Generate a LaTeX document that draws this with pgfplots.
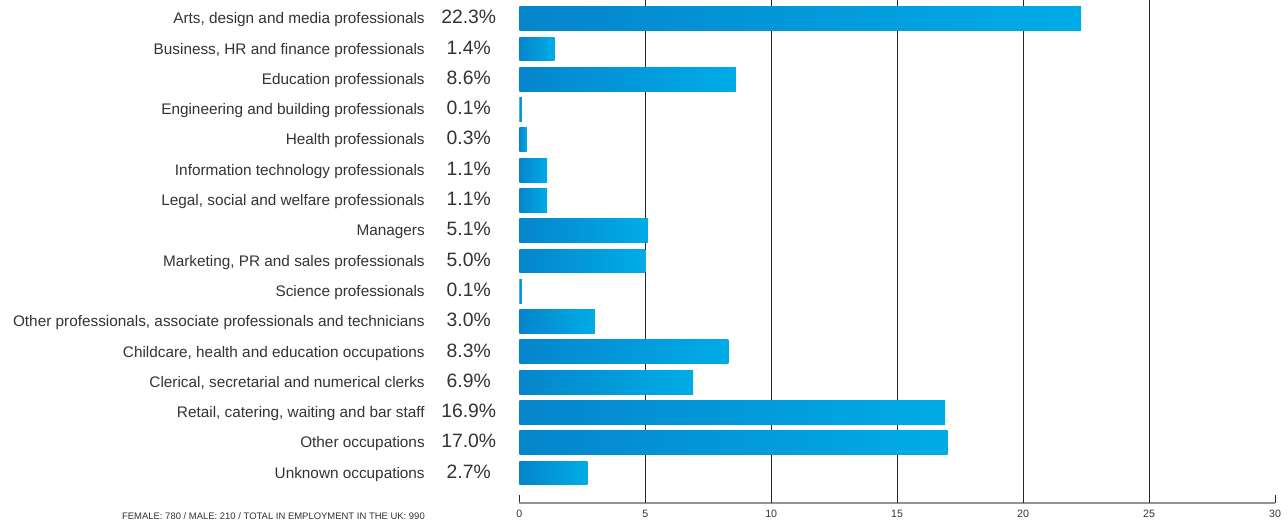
\documentclass[border=0pt]{standalone}
\usepackage{pgfplots}
\pgfplotsset{compat=1.18}
\usepackage{fontspec}
\setmainfont{Liberation Sans}
\definecolor{barL}{HTML}{0585CB}
\definecolor{barR}{HTML}{00ACE6}
\definecolor{txt}{HTML}{333333}
\newcommand{\vl}[1]{\hspace{6.75pt}\makebox[52.5pt][c]{\fontsize{14.5}{16}\selectfont #1}}
\begin{document}
\begin{tikzpicture}
\begin{axis}[
  at={(0,0)}, anchor=south west,
  scale only axis,
  width=566.8pt, height=377.25pt,
  xmin=0, xmax=30,
  ymin=-0.617, ymax=15.99,
  y dir=reverse,
  axis x line*=bottom,
  axis y line*=left,
  y axis line style={draw=none},
  x axis line style={draw=gray!85, line width=1.5pt},
  xtick={0,5,...,30},
  tick align=inside,
  major tick length=6pt,
  xtick style={draw=black!85, line width=0.75pt},
  ytick style={draw=none},
  extra x ticks={5,10,15,20,25},
  extra x tick labels={},
  extra x tick style={grid=major, major grid style={draw=black!85, line width=0.75pt}},
  /pgf/number format/assume math mode=true,
  xticklabel style={font=\fontsize{8}{9}\selectfont, text=txt, yshift=-2pt},
  ytick={0,...,15},
  yticklabels={
    Arts{,} design and media professionals\vl{22.3\%},
    Business{,} HR and finance professionals\vl{1.4\%},
    Education professionals\vl{8.6\%},
    Engineering and building professionals\vl{0.1\%},
    Health professionals\vl{0.3\%},
    Information technology professionals\vl{1.1\%},
    Legal{,} social and welfare professionals\vl{1.1\%},
    Managers\vl{5.1\%},
    Marketing{,} PR and sales professionals\vl{5.0\%},
    Science professionals\vl{0.1\%},
    Other professionals{,} associate professionals and technicians\vl{3.0\%},
    Childcare{,} health and education occupations\vl{8.3\%},
    Clerical{,} secretarial and numerical clerks\vl{6.9\%},
    {Retail, catering, waiting and bar staff}\vl{16.9\%},
    Other occupations\vl{17.0\%},
    Unknown occupations\vl{2.7\%}
  },
  yticklabel style={font=\fontsize{11.5}{13}\selectfont, text=txt, inner sep=0pt, xshift=-11.5pt, anchor=east},
  clip=false,
  no markers,
  every axis plot/.append style={xbar, bar width=0.79, draw=none, left color=barL, right color=barR, mark=none},
]
\addplot coordinates {(22.3,0)};
\addplot coordinates {(1.4,1)};
\addplot coordinates {(8.6,2)};
\addplot coordinates {(0.1,3)};
\addplot coordinates {(0.3,4)};
\addplot coordinates {(1.1,5)};
\addplot coordinates {(1.1,6)};
\addplot coordinates {(5.1,7)};
\addplot coordinates {(5.0,8)};
\addplot coordinates {(0.1,9)};
\addplot coordinates {(3.0,10)};
\addplot coordinates {(8.3,11)};
\addplot coordinates {(6.9,12)};
\addplot coordinates {(16.9,13)};
\addplot coordinates {(17.0,14)};
\addplot coordinates {(2.7,15)};
\end{axis}
\node[anchor=east, text=txt, font=\fontsize{7.1}{9}\selectfont, inner sep=0pt] at (-70.7pt,-10pt) {FEMALE: 780 / MALE: 210 / TOTAL IN EMPLOYMENT IN THE UK: 990};
\pgfresetboundingbox
\path[use as bounding box] (-389.5pt,-12.75pt) rectangle (575.8pt,377.25pt);
\end{tikzpicture}
\end{document}
